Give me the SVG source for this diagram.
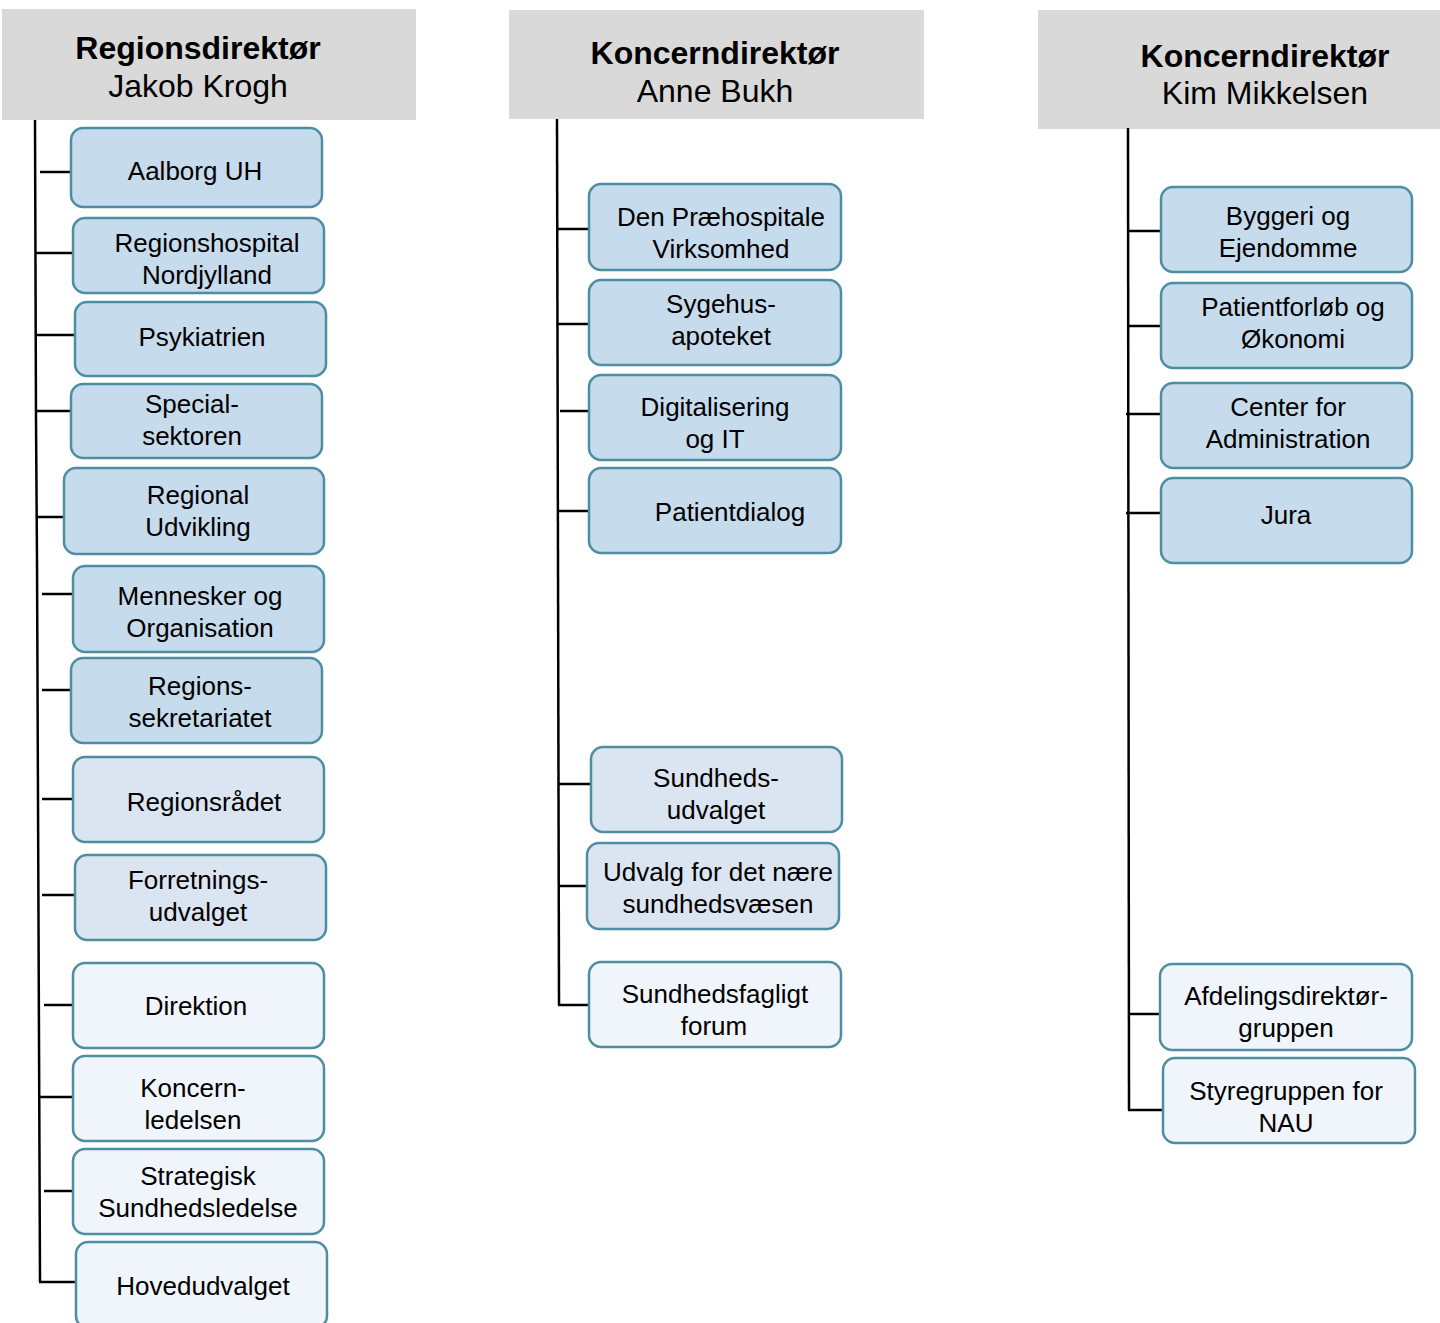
<svg xmlns="http://www.w3.org/2000/svg" width="1440" height="1323" viewBox="0 0 1440 1323">
<style>
.hdr{fill:#d9d9d9;stroke:none}
.ht{font-family:"Liberation Sans",Arial,sans-serif;font-size:32px;fill:#000;text-anchor:middle}
.b{font-weight:bold}
.n rect{stroke:#4e8ea2;stroke-width:2.5}
.d rect{fill:#c6dbec}
.m rect{fill:#dae5f1}
.l rect{fill:#eff5fa}
.n text{font-family:"Liberation Sans",Arial,sans-serif;font-size:26px;fill:#000;text-anchor:middle}
.c line,.c polyline{stroke:#000;stroke-width:2.5;fill:none}
</style>
<rect width="1440" height="1323" fill="#fff"/>
<g id="hdr1"><rect class="hdr" x="2" y="9" width="414" height="111"/><text class="ht b" x="198" y="59">Regionsdirektør</text><text class="ht" x="198" y="97">Jakob Krogh</text></g>
<g id="hdr2"><rect class="hdr" x="509" y="10" width="415" height="109"/><text class="ht b" x="715" y="64">Koncerndirektør</text><text class="ht" x="715" y="102">Anne Bukh</text></g>
<g id="hdr3"><rect class="hdr" x="1038" y="10" width="402" height="119"/><text class="ht b" x="1265" y="67">Koncerndirektør</text><text class="ht" x="1265" y="104">Kim Mikkelsen</text></g>
<g id="connectors" class="c">
<polyline points="35,120 36,420 37,560 40,1282"/>
<line x1="40" y1="172" x2="71" y2="172"/>
<line x1="36" y1="253" x2="73" y2="253"/>
<line x1="36" y1="335" x2="75" y2="335"/>
<line x1="36" y1="411" x2="71" y2="411"/>
<line x1="36" y1="517" x2="64" y2="517"/>
<line x1="42" y1="594" x2="73" y2="594"/>
<line x1="42" y1="690" x2="71" y2="690"/>
<line x1="42" y1="799" x2="73" y2="799"/>
<line x1="42" y1="895" x2="75" y2="895"/>
<line x1="44" y1="1005" x2="73" y2="1005"/>
<line x1="40" y1="1097" x2="73" y2="1097"/>
<line x1="44" y1="1191" x2="73" y2="1191"/>
<line x1="39" y1="1282" x2="76" y2="1282"/>
<polyline points="557,119 559,1005"/>
<line x1="557" y1="229" x2="589" y2="229"/>
<line x1="557" y1="324" x2="589" y2="324"/>
<line x1="560" y1="411" x2="589" y2="411"/>
<line x1="558" y1="511" x2="589" y2="511"/>
<line x1="559" y1="784" x2="591" y2="784"/>
<line x1="559" y1="886" x2="587" y2="886"/>
<line x1="558" y1="1005" x2="589" y2="1005"/>
<polyline points="1128,128 1129,1110"/>
<line x1="1128" y1="231" x2="1161" y2="231"/>
<line x1="1128" y1="326" x2="1161" y2="326"/>
<line x1="1126" y1="414" x2="1161" y2="414"/>
<line x1="1126" y1="513" x2="1161" y2="513"/>
<line x1="1129" y1="1014" x2="1160" y2="1014"/>
<line x1="1128" y1="1110" x2="1163" y2="1110"/>
</g>
<g id="n-aalborg" class="n d"><rect x="71" y="128" width="251" height="79" rx="12"/><text x="195" y="180">Aalborg UH</text></g>
<g id="n-regionshospital" class="n d"><rect x="73" y="218" width="251" height="75" rx="12"/><text x="207" y="252">Regionshospital</text><text x="207" y="284">Nordjylland</text></g>
<g id="n-psykiatrien" class="n d"><rect x="75" y="302" width="251" height="74" rx="12"/><text x="202" y="346">Psykiatrien</text></g>
<g id="n-special" class="n d"><rect x="71" y="384" width="251" height="74" rx="12"/><text x="192" y="413">Special-</text><text x="192" y="445">sektoren</text></g>
<g id="n-regional" class="n d"><rect x="64" y="468" width="260" height="86" rx="12"/><text x="198" y="504">Regional</text><text x="198" y="536">Udvikling</text></g>
<g id="n-mennesker" class="n d"><rect x="73" y="566" width="251" height="86" rx="12"/><text x="200" y="605">Mennesker og</text><text x="200" y="637">Organisation</text></g>
<g id="n-regionssek" class="n d"><rect x="71" y="658" width="251" height="85" rx="12"/><text x="200" y="695">Regions-</text><text x="200" y="727">sekretariatet</text></g>
<g id="n-regionsraadet" class="n m"><rect x="73" y="757" width="251" height="85" rx="12"/><text x="204" y="811">Regionsrådet</text></g>
<g id="n-forretnings" class="n m"><rect x="75" y="855" width="251" height="85" rx="12"/><text x="198" y="889">Forretnings-</text><text x="198" y="921">udvalget</text></g>
<g id="n-direktion" class="n l"><rect x="73" y="963" width="251" height="85" rx="12"/><text x="196" y="1015">Direktion</text></g>
<g id="n-koncernledelsen" class="n l"><rect x="73" y="1056" width="251" height="85" rx="12"/><text x="193" y="1097">Koncern-</text><text x="193" y="1129">ledelsen</text></g>
<g id="n-strategisk" class="n l"><rect x="73" y="1149" width="251" height="85" rx="12"/><text x="198" y="1185">Strategisk</text><text x="198" y="1217">Sundhedsledelse</text></g>
<g id="n-hovedudvalget" class="n l"><rect x="76" y="1242" width="251" height="86" rx="12"/><text x="203" y="1295">Hovedudvalget</text></g>
<g id="n-praehospitale" class="n d"><rect x="589" y="184" width="252" height="86" rx="12"/><text x="721" y="226">Den Præhospitale</text><text x="721" y="258">Virksomhed</text></g>
<g id="n-sygehusapoteket" class="n d"><rect x="589" y="280" width="252" height="85" rx="12"/><text x="721" y="313">Sygehus-</text><text x="721" y="345">apoteket</text></g>
<g id="n-digitalisering" class="n d"><rect x="589" y="375" width="252" height="85" rx="12"/><text x="715" y="416">Digitalisering</text><text x="715" y="448">og IT</text></g>
<g id="n-patientdialog" class="n d"><rect x="589" y="468" width="252" height="85" rx="12"/><text x="730" y="521">Patientdialog</text></g>
<g id="n-sundhedsudvalget" class="n m"><rect x="591" y="747" width="251" height="85" rx="12"/><text x="716" y="787">Sundheds-</text><text x="716" y="819">udvalget</text></g>
<g id="n-naere" class="n m"><rect x="587" y="843" width="252" height="86" rx="12"/><text x="718" y="881">Udvalg for det nære</text><text x="718" y="913">sundhedsvæsen</text></g>
<g id="n-sundhedsfagligt" class="n l"><rect x="589" y="962" width="252" height="85" rx="12"/><text x="715" y="1003">Sundhedsfagligt</text><text x="714" y="1035">forum</text></g>
<g id="n-byggeri" class="n d"><rect x="1161" y="187" width="251" height="85" rx="12"/><text x="1288" y="225">Byggeri og</text><text x="1288" y="257">Ejendomme</text></g>
<g id="n-patientforloeb" class="n d"><rect x="1161" y="283" width="251" height="85" rx="12"/><text x="1293" y="316">Patientforløb og</text><text x="1293" y="348">Økonomi</text></g>
<g id="n-center" class="n d"><rect x="1161" y="383" width="251" height="85" rx="12"/><text x="1288" y="416">Center for</text><text x="1288" y="448">Administration</text></g>
<g id="n-jura" class="n d"><rect x="1161" y="478" width="251" height="85" rx="12"/><text x="1286" y="524">Jura</text></g>
<g id="n-afdelingsdir" class="n l"><rect x="1160" y="964" width="252" height="86" rx="12"/><text x="1286" y="1005">Afdelingsdirektør-</text><text x="1286" y="1037">gruppen</text></g>
<g id="n-styregruppen" class="n l"><rect x="1163" y="1058" width="252" height="85" rx="12"/><text x="1286" y="1100">Styregruppen for</text><text x="1286" y="1132">NAU</text></g>
</svg>
